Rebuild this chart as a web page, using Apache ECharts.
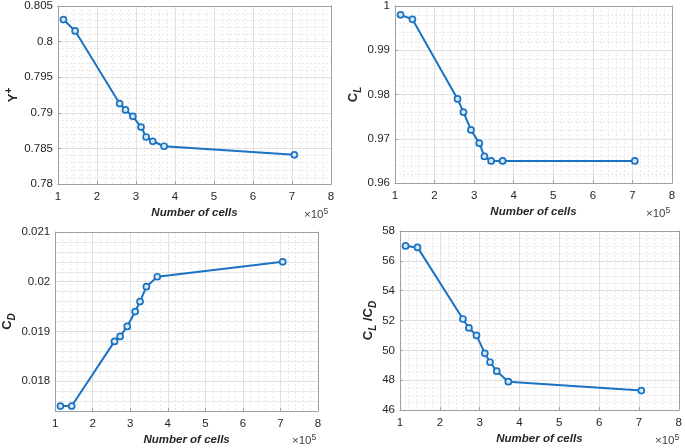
<!DOCTYPE html>
<html>
<head>
<meta charset="utf-8">
<script src="https://cdn.jsdelivr.net/npm/echarts@6/dist/echarts.min.js"></script>
<style>
html,body{margin:0;padding:0;background:#fff;}
#c{width:685px;height:448px;}
</style>
</head>
<body>
<div id="c"></div>
<script>
// Number of cells (x values)
var cells = [114000, 144000, 258000, 273000, 292000, 313000, 326000, 343000, 372000, 706000];
// Series values
var yPlus = [0.8031, 0.8015, 0.7913, 0.7904, 0.7895, 0.7880, 0.7866, 0.7860, 0.7853, 0.7841];
var cL = [0.998, 0.997, 0.979, 0.976, 0.972, 0.969, 0.966, 0.965, 0.965, 0.965];
var cD = [0.0175, 0.0175, 0.0188, 0.0189, 0.0191, 0.0194, 0.0196, 0.0199, 0.0201, 0.0204];
var cLcD = [57.0, 56.9, 52.1, 51.5, 51.0, 49.8, 49.2, 48.6, 47.9, 47.3];
// Axis tick settings
var xTicks = {min: 100000, max: 800000, interval: 100000};
var yPlusTicks = {min: 0.78, max: 0.805, interval: 0.005};
var cLTicks = {min: 0.96, max: 1, interval: 0.01};
var cDTicks = {min: 0.0174, max: 0.021, interval: 0.0002}; // labels only at multiples of 0.001
var cLcDTicks = {min: 46, max: 58, interval: 2};
var xName = 'Number of cells';

var FONT = 'Liberation Sans, Arial, Helvetica, sans-serif';
var LINE = '#1a73c2';
var BORDER = '#a0a0a0';
var TXT = '#262626';
var MAJ = '#e0e0e0';
var MIN = '#e8e8e8';

function pts(ys){ return cells.map(function(x,i){ return [x, ys[i]]; }); }
function trim(v){ return String(parseFloat(v.toFixed(6))); }

var grids = [
  {left: 58, top: 5, width: 273, height: 179},
  {left: 395, top: 5, width: 277, height: 178},
  {left: 53, top: 232, width: 265, height: 179},
  {left: 400, top: 231, width: 279, height: 179}
];

function xAxis(i){
  return {
    type: 'value', gridIndex: i, min: xTicks.min, max: xTicks.max, interval: xTicks.interval,
    name: xName, nameLocation: 'middle', nameGap: 23,
    nameTextStyle: {fontFamily: FONT, fontSize: 11.5, fontWeight: 'bold', fontStyle: 'italic', color: TXT},
    axisLine: {show: true, onZero: false, lineStyle: {color: BORDER, width: 1}},
    axisTick: {show: true, inside: true, length: 3, lineStyle: {color: BORDER}},
    axisLabel: {fontFamily: FONT, fontSize: 11.5, color: TXT, margin: 7, formatter: function(v){ return trim(v/1e5); }},
    splitLine: {show: true, lineStyle: {color: MAJ, width: 1}},
    minorTick: {show: false, splitNumber: 5},
    minorSplitLine: {show: true, lineStyle: {color: MIN, width: 1, type: [2, 2]}}
  };
}
// top/right box lines
function xAxisTop(i){
  return {type: 'value', gridIndex: i, position: 'top', min: xTicks.min, max: xTicks.max, interval: xTicks.interval,
    axisLine: {show: true, lineStyle: {color: BORDER}}, axisTick: {show: false}, axisLabel: {show: false}, splitLine: {show: false}};
}
function yAxis(i, t, name, rich, gap, minorN, filterMajor){
  var a = {
    type: 'value', gridIndex: i, min: t.min, max: t.max, interval: t.interval,
    name: name, nameLocation: 'middle', nameGap: gap, nameRotate: 90,
    nameTextStyle: {fontFamily: FONT, fontSize: 13, fontWeight: 'bold', color: TXT, rich: rich},
    axisLine: {show: true, lineStyle: {color: BORDER, width: 1}},
    axisTick: {show: !filterMajor, inside: true, length: 3, lineStyle: {color: BORDER}},
    axisLabel: {fontFamily: FONT, fontSize: 11.5, color: TXT, margin: 5, formatter: function(v){ return trim(v); }},
    splitLine: {show: true, lineStyle: {color: MAJ, width: 1}},
    minorTick: {show: false, splitNumber: minorN},
    minorSplitLine: {show: !filterMajor, lineStyle: {color: MIN, width: 1, type: [2, 2]}}
  };
  if (filterMajor) {
    a.axisLabel.formatter = function(v){
      var k = v / filterMajor;
      return Math.abs(k - Math.round(k)) < 1e-6 ? trim(v) : '';
    };
    // every 5th line (multiple of 0.001) is a major line
    a.splitLine.lineStyle.color = [MIN, MIN, MIN, MAJ, MIN];
  }
  return a;
}
function yAxisRight(i, t){
  return {type: 'value', gridIndex: i, position: 'right', min: t.min, max: t.max, interval: t.interval,
    axisLine: {show: true, lineStyle: {color: BORDER}}, axisTick: {show: false}, axisLabel: {show: false}, splitLine: {show: false}};
}

var bold = {fontFamily: FONT, fontSize: 13, fontWeight: 'bold', color: TXT, lineHeight: 20};
var subS = {fontFamily: FONT, fontSize: 10, fontWeight: 'bold', fontStyle: 'italic', color: TXT, lineHeight: 9, verticalAlign: 'bottom'};
var supS = {fontFamily: FONT, fontSize: 10, fontWeight: 'bold', color: TXT, lineHeight: 9, verticalAlign: 'top'};
var richAll = {a: bold, sub: subS, sup: supS};

function series(i, ys){
  return {
    type: 'line', xAxisIndex: i * 2, yAxisIndex: i * 2, data: pts(ys),
    symbol: 'circle', symbolSize: 6, showSymbol: true,
    lineStyle: {color: LINE, width: 2},
    itemStyle: {color: '#dbe9f6', borderColor: LINE, borderWidth: 1.7},
    animation: false, z: 5
  };
}

var xAxes = [], yAxes = [];
for (var i = 0; i < 4; i++) { xAxes.push(xAxis(i)); xAxes.push(xAxisTop(i)); }
yAxes.push(yAxis(0, yPlusTicks, '{a|Y}{sup|+}', richAll, 27, 5));
yAxes.push(yAxisRight(0, yPlusTicks));
yAxes.push(yAxis(1, cLTicks, '{a|C}{sub|L}', richAll, 29, 5));
yAxes.push(yAxisRight(1, cLTicks));
yAxes.push(yAxis(2, cDTicks, '{a|C}{sub|D}', richAll, 32, 5, 0.001));
yAxes.push(yAxisRight(2, cDTicks));
yAxes.push(yAxis(3, cLcDTicks, '{a|C}{sub|L}{a| /C}{sub|D}', richAll, 17, 4));
yAxes.push(yAxisRight(3, cLcDTicks));

function expo(x, y){
  return {type: 'text', x: x, y: y, z: 10, style: {
    text: '{m|\u00d710}{p|5}',
    rich: {m: {fontFamily: FONT, fontSize: 11.5, fill: '#404040', color: '#404040', lineHeight: 16},
           p: {fontFamily: FONT, fontSize: 8.5, fill: '#404040', color: '#404040', lineHeight: 8, verticalAlign: 'top'}}
  }};
}

var chart = echarts.init(document.getElementById('c'), null, {renderer: 'canvas'});
chart.setOption({
  backgroundColor: '#fff',
  animation: false,
  grid: grids,
  xAxis: xAxes,
  yAxis: yAxes,
  series: [series(0, yPlus), series(1, cL), series(2, cD), series(3, cLcD)],
  graphic: [expo(304, 207), expo(646, 206), expo(292, 433), expo(655, 433)]
});
</script>
</body>
</html>
